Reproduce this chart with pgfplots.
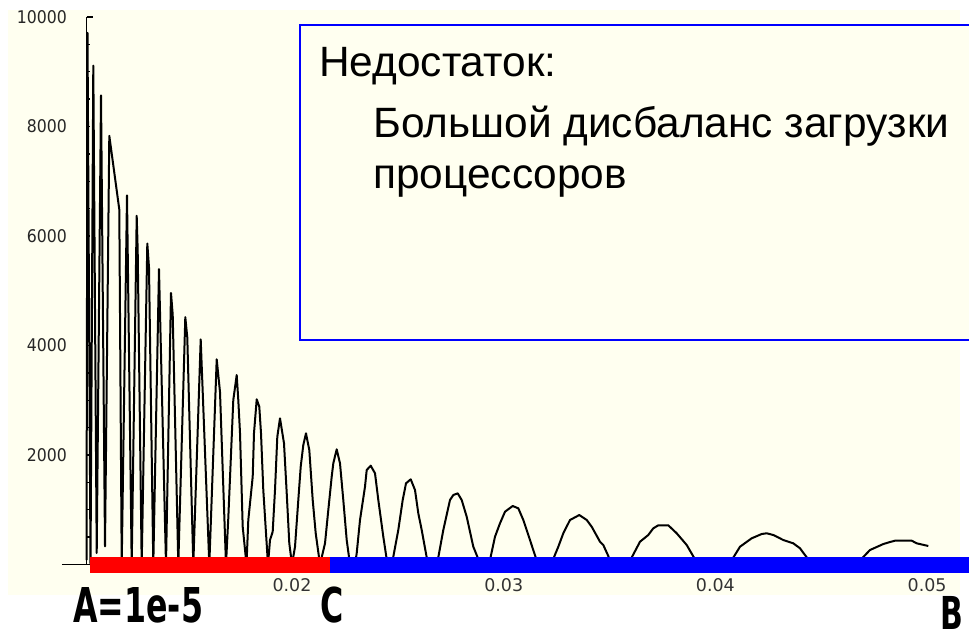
\documentclass[border=0pt]{standalone}
\usepackage{fontspec}
\setmainfont{Liberation Sans}
\newfontfamily\tickfont[FakeStretch=0.9]{DejaVu Sans}
\newfontfamily\xtickfont{DejaVu Sans}
\newfontfamily\heavyfont[FakeStretch=0.66]{DejaVu Sans}
\usepackage{pgfplots}
\pgfplotsset{compat=1.18}
\definecolor{cream}{RGB}{255,255,240}
\definecolor{pred}{RGB}{255,0,0}
\definecolor{pblue}{RGB}{0,0,255}

\pgfplotstableread{
x v
0.010293 80
0.010340 9708
0.010482 0
0.010614 9112
0.010775 210
0.010978 8568
0.011167 332
0.011370 7830
0.011842 6484
0.011956 0
0.012206 6742
0.012428 0
0.012664 6369
0.012711 5744
0.012900 0
0.013165 5863
0.013245 5427
0.013448 0
0.013717 5397
0.014048 0
0.014284 4959
0.014365 4563
0.014629 0
0.014960 4517
0.015054 4146
0.015338 0
0.015687 4113
0.016094 0
0.016443 3748
0.016599 3151
0.016882 0
0.016991 849
0.017227 3005
0.017388 3461
0.017463 3005
0.017544 2402
0.017671 690
0.017851 0
0.017936 813
0.018144 1604
0.018205 2402
0.018333 3017
0.018455 2882
0.018536 2396
0.018644 1361
0.018772 570
0.018866 0
0.018961 447
0.019088 599
0.019197 1361
0.019306 2334
0.019433 2670
0.019622 2214
0.019750 1306
0.019872 387
0.020000 0
0.020142 325
0.020298 1178
0.020411 1786
0.020534 2183
0.020661 2396
0.020817 2091
0.020978 1178
0.021120 570
0.021323 0
0.021559 387
0.021715 995
0.021875 1604
0.021951 1848
0.022111 2104
0.022267 1848
0.022423 1178
0.022584 447
0.022740 0
0.022976 0
0.023056 205
0.023212 813
0.023448 1421
0.023529 1726
0.023718 1805
0.023921 1666
0.024077 1178
0.024313 508
0.024511 0
0.024676 0
0.024785 142
0.025021 630
0.025229 1178
0.025385 1483
0.025607 1556
0.025810 1361
0.025966 935
0.026127 630
0.026424 0
0.026849 0
0.027147 630
0.027463 1178
0.027619 1269
0.027827 1300
0.028016 1178
0.028252 873
0.028564 325
0.028904 0
0.029306 0
0.029589 508
0.029825 753
0.030061 964
0.030425 1069
0.030690 1026
0.030926 813
0.031242 447
0.031620 0
0.032234 0
0.032579 325
0.032815 570
0.033132 813
0.033571 904
0.033921 813
0.034157 690
0.034549 416
0.034705 356
0.034941 155
0.035069 0
0.035872 0
0.036438 416
0.036830 539
0.037067 661
0.037303 716
0.037775 716
0.038172 570
0.038645 356
0.039178 0
0.040643 0
0.041162 325
0.041715 479
0.042187 557
0.042423 570
0.042735 539
0.043208 447
0.043680 387
0.043996 296
0.044563 0
0.046642 0
0.047303 265
0.047931 374
0.048248 411
0.048484 435
0.049273 435
0.049509 387
0.050057 338
}\curvedata

\begin{document}
\begin{tikzpicture}[x=0.75pt,y=0.75pt]
\path[use as bounding box] (0,0) rectangle (969,637);
\fill[cream] (8,42) rectangle (960,627);
\begin{axis}[
  at={(64.99pt,54.375pt)}, anchor=south west,
  scale only axis, width=654.15pt, height=410.625pt,
  xmin=0.0103, xmax=0.0515, ymin=0, ymax=10000,
  clip=false,
  axis y line*=left, axis x line*=bottom,
  axis line style={line width=1.2pt, -},
  tick align=inside,
  ytick={2000,4000,6000,8000},
  extra y ticks={10000},
  extra y tick style={major tick length=4.5pt},
  minor ytick={500,1000,...,9500},
  major tick length=2.25pt, minor tick length=2.25pt,
  tick style={line width=1pt, black},
  xtick={0.02,0.03,0.04,0.05},
  x tick style={draw=none},
  scaled ticks=false,
  /pgf/number format/.cd, fixed, 1000 sep={}, assume math mode=true,
  /pgfplots/.cd,
  xticklabel style={font=\xtickfont\fontsize{13.1pt}{15pt}\selectfont, text=black!80,
     anchor=center, yshift=-15.4pt, /pgf/number format/precision=2},
  yticklabel style={font=\tickfont\fontsize{13.1pt}{15pt}\selectfont, text=black!85,
     anchor=east, inner sep=0pt, xshift=-14.7pt},
]
\addplot[black, line width=1.5pt, line join=round, mark=none] table[x=x, y=v] {\curvedata};
\addplot[pred, line width=12pt, mark=none, forget plot] coordinates {(0.010458,-9) (0.021795,-9)};
\addplot[pblue, line width=12pt, mark=none, forget plot] coordinates {(0.021795,-9) (0.0525,-9)};
\draw[line width=1.2pt] (axis cs:0.009135,0) -- (axis cs:0.0103,0);
\end{axis}
\draw[pblue, line width=1.5pt, fill=cream] (300,612) rectangle (985,297);
\node[anchor=base west, inner sep=0pt] at (319,561) {\fontsize{31.8pt}{36pt}\selectfont Недостаток:};
\node[anchor=base west, inner sep=0pt] at (373,499.5) {\fontsize{31.8pt}{36pt}\selectfont Большой дисбаланс загрузки};
\node[anchor=base west, inner sep=0pt] at (373,449) {\fontsize{31.8pt}{36pt}\selectfont процессоров};
\node[anchor=base west, inner sep=0pt] at (73,15) {\heavyfont\bfseries\fontsize{36pt}{40pt}\selectfont A=1e-5};
\node[anchor=base west, inner sep=0pt] at (320,15) {\heavyfont\bfseries\fontsize{36pt}{40pt}\selectfont C};
\node[anchor=base west, inner sep=0pt] at (940,8) {\heavyfont\bfseries\fontsize{34pt}{40pt}\selectfont B};
\end{tikzpicture}
\end{document}
